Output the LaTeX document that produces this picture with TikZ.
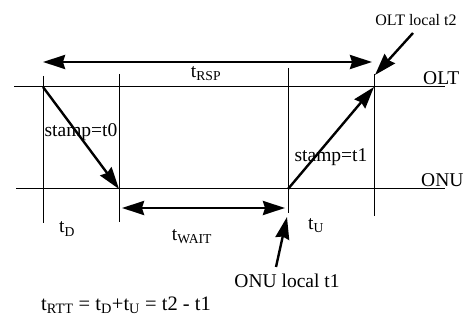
\documentclass[tikz,border=0pt]{standalone}
\usepackage{fontspec}
\setmainfont{Liberation Serif}
\usetikzlibrary{arrows.meta}

\begin{document}
\begin{tikzpicture}[x=1pt, y=-1pt,
  axis/.style={line width=1pt},
  span/.style={{Stealth[length=22pt, width=14pt, inset=2pt]}-{Stealth[length=22pt, width=14pt, inset=2pt]}, line width=2.8pt},
  msg/.style={-{Stealth[length=22pt, width=14pt, inset=2pt]}, line width=2.4pt},
  lbl/.style={font=\fontsize{19.5}{21}\selectfont, inner sep=0pt},
  note/.style={font=\fontsize{16}{18}\selectfont, inner sep=0pt}
]
  \useasboundingbox (0,0) rectangle (467,320);

  % time lines
  \coordinate (oltW) at (14,87);
  \coordinate (oltE) at (445,87);
  \coordinate (onuW) at (16,189);
  \coordinate (onuE) at (445,189);
  \draw[axis] (oltW) -- (oltE);
  \draw[axis] (onuW) -- (onuE);
  \node[lbl, anchor=south west] (olt) at (423,85) {OLT};
  \node[lbl, anchor=south west] (onu) at (421,187) {ONU};

  % markers
  \coordinate (m1top) at (43,76);   \coordinate (m1bot) at (43,223);
  \coordinate (m2top) at (119,74);  \coordinate (m2bot) at (119,222);
  \coordinate (m3top) at (288,68);  \coordinate (m3bot) at (288,213);
  \coordinate (m4top) at (374,74);  \coordinate (m4bot) at (374,216);
  \draw[axis] (m1top) -- (m1bot);
  \draw[axis] (m2top) -- (m2bot);
  \draw[axis] (m3top) -- (m3bot);
  \draw[axis] (m4top) -- (m4bot);

  % messages
  \coordinate (tx0) at (43,87);
  \coordinate (rx0) at (119,189);
  \coordinate (tx1) at (288,189);
  \coordinate (rx1) at (374,87);
  \draw[msg] (tx0) -- (rx0);
  \draw[msg] (tx1) -- (rx1);
  \node[lbl] (stamp0) at (81,132) {stamp=t0};
  \node[lbl] (stamp1) at (331,157) {stamp=t1};

  % intervals
  \coordinate (rspL) at (43,62);
  \coordinate (rspR) at (372,62);
  \coordinate (waitL) at (122,208);
  \coordinate (waitR) at (285,208);
  \draw[span] (rspL) -- (rspR);
  \draw[span] (waitL) -- (waitR);
  \node[lbl] (rsp) at (206,74) {t\textsubscript{RSP}};
  \node[lbl] (wait) at (192,237) {t\textsubscript{WAIT}};
  \node[lbl] (td) at (67,229) {t\textsubscript{D}};
  \node[lbl] (tu) at (316,226) {t\textsubscript{U}};

  % local times
  \node[note] (olt2) at (416,20) {OLT local t2};
  \coordinate (olt2tail) at (413,33);
  \coordinate (olt2tip) at (375,75);
  \draw[msg] (olt2tail) -- (olt2tip);
  \node[lbl] (onu1) at (287,281) {ONU local t1};
  \coordinate (onu1tail) at (276,267);
  \coordinate (onu1tip) at (287,217);
  \draw[msg] (onu1tail) -- (onu1tip);

  \node[lbl, font=\fontsize{20.5}{22}\selectfont] (rtt) at (126,305) {t\textsubscript{RTT} = t\textsubscript{D}+t\textsubscript{U} = t2 - t1};
\end{tikzpicture}
\end{document}
